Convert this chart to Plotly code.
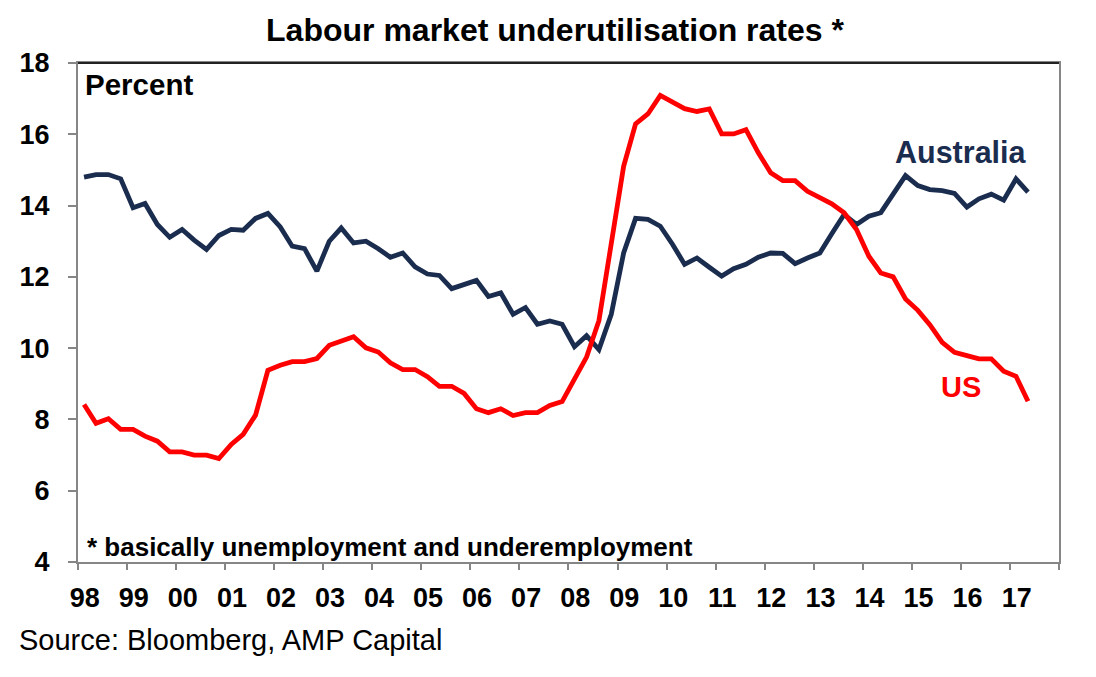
import plotly.graph_objects as go

# Quarterly observations (Feb, May, Aug, Nov) from Feb 1998 to May 2017
australia = [14.80, 14.87, 14.87, 14.75, 13.94, 14.06, 13.47, 13.11, 13.33, 13.03,
             12.77, 13.16, 13.33, 13.31, 13.64, 13.78, 13.40, 12.86, 12.79, 12.16,
             13.00, 13.37, 12.95, 13.00, 12.79, 12.55, 12.67, 12.28, 12.08, 12.04,
             11.67, 11.78, 11.90, 11.45, 11.55, 10.95, 11.14, 10.67, 10.76, 10.67,
             10.04, 10.35, 9.96, 10.95, 12.67, 13.64, 13.61, 13.42, 12.91, 12.35,
             12.53, 12.27, 12.02, 12.23, 12.35, 12.55, 12.67, 12.66, 12.37, 12.53,
             12.67, 13.21, 13.75, 13.47, 13.70, 13.80, 14.31, 14.84, 14.56, 14.45,
             14.42, 14.34, 13.96, 14.19, 14.32, 14.15, 14.75, 14.38]

us = [8.42, 7.89, 8.02, 7.72, 7.72, 7.53, 7.39, 7.09, 7.09, 7.00,
      7.00, 6.90, 7.30, 7.58, 8.12, 9.38, 9.52, 9.62, 9.62, 9.71,
      10.08, 10.20, 10.32, 10.01, 9.89, 9.59, 9.40, 9.40, 9.20, 8.93,
      8.93, 8.73, 8.30, 8.19, 8.30, 8.11, 8.19, 8.19, 8.39, 8.50,
      9.12, 9.75, 10.77, 12.90, 15.10, 16.29, 16.57, 17.09, 16.92, 16.72,
      16.64, 16.71, 16.01, 16.01, 16.13, 15.48, 14.92, 14.70, 14.70, 14.40,
      14.22, 14.05, 13.80, 13.33, 12.58, 12.11, 12.00, 11.38, 11.06, 10.66,
      10.16, 9.88, 9.79, 9.70, 9.70, 9.35, 9.21, 8.51]

years = list(range(1998, 2018))
quarter_months = [2, 5, 8, 11]
dates = [f"{y}-{m:02d}-15" for y in years for m in quarter_months][:len(australia)]

year_labels = [f"{y % 100:02d}" for y in years]
label_positions = [f"{y}-02-20" for y in years]
year_ticks = [f"{y}-01-01" for y in years + [2018]]
y_ticks = [4, 6, 8, 10, 12, 14, 16, 18]

NAVY = "#1B2D4F"
RED = "#FF0000"
GREY = "#868686"
FONT = "Liberation Sans, Arial, sans-serif"

# page has an 8px body margin, so the figure is drawn 8px smaller
W, H = 1088, 669
L, T, R, B = 65, 55, 37, 115
PW, PH = W - L - R, H - T - B

fig = go.Figure()
fig.add_trace(go.Scatter(x=dates, y=australia, mode="lines", name="Australia",
                         line=dict(color=NAVY, width=4.8)))
fig.add_trace(go.Scatter(x=dates, y=us, mode="lines", name="US",
                         line=dict(color=RED, width=4.8)))

fig.update_layout(
    width=W, height=H,
    margin=dict(l=L, r=R, t=T, b=B),
    paper_bgcolor="white", plot_bgcolor="white",
    showlegend=False,
    font=dict(family=FONT, color="black"),
    title=dict(text="<b>Labour market underutilisation rates *</b>",
               x=(555 - 8) / W, xanchor="center", y=1 - 22 / H, yanchor="middle",
               font=dict(size=32, color="black", family=FONT)),
    xaxis=dict(
        type="date", range=["1998-01-01", "2018-01-01"],
        tickmode="array", tickvals=label_positions, ticktext=year_labels,
        ticks="", ticklabelstandoff=11,
        tickfont=dict(size=27, weight="bold", color="black", family=FONT),
        showgrid=False, zeroline=False,
        showline=True, linecolor=GREY, linewidth=2, mirror=True,
        minor=dict(tickmode="array", tickvals=year_ticks, ticks="outside",
                   ticklen=6, tickwidth=1.5, tickcolor=GREY, showgrid=False),
    ),
    yaxis=dict(
        range=[4, 18], tickmode="array", tickvals=y_ticks,
        ticks="outside", ticklen=8, tickwidth=1.5, tickcolor=GREY,
        ticklabelstandoff=13,
        tickfont=dict(size=27, weight="bold", color="black", family=FONT),
        showgrid=False, zeroline=False,
        showline=True, linecolor=GREY, linewidth=2, mirror=True,
    ),
)

# darker top border of the plot frame
fig.add_shape(type="line", xref="paper", yref="paper", x0=0, x1=1, y0=1, y1=1,
              line=dict(color="#222222", width=2))

def px(xp):
    return (xp - 8 - L) / PW

def py(yp):
    return (H - B - (yp - 8)) / PH

fig.add_annotation(text="<b>Percent</b>", xref="paper", yref="paper",
                   x=px(78), y=py(84), xanchor="left", yanchor="middle",
                   showarrow=False, font=dict(size=29.5, color="black", family=FONT))
fig.add_annotation(text="<b>* basically unemployment and underemployment</b>",
                   xref="paper", yref="paper", x=px(80), y=py(547),
                   xanchor="left", yanchor="middle", showarrow=False,
                   font=dict(size=26, color="black", family=FONT))
fig.add_annotation(text="<b>Australia</b>", xref="paper", yref="paper",
                   x=px(961), y=py(152),
                   xanchor="center", yanchor="middle", showarrow=False,
                   font=dict(size=30.5, color=NAVY, family=FONT))
fig.add_annotation(text="<b>US</b>", xref="paper", yref="paper",
                   x=px(960), y=py(387),
                   xanchor="center", yanchor="middle", showarrow=False,
                   font=dict(size=29, color=RED, family=FONT))
fig.add_annotation(text="Source: Bloomberg, AMP Capital", xref="paper", yref="paper",
                   x=px(12), y=py(640), xanchor="left", yanchor="middle",
                   showarrow=False, font=dict(size=29, color="black", family=FONT))

fig.write_html("out.html")
